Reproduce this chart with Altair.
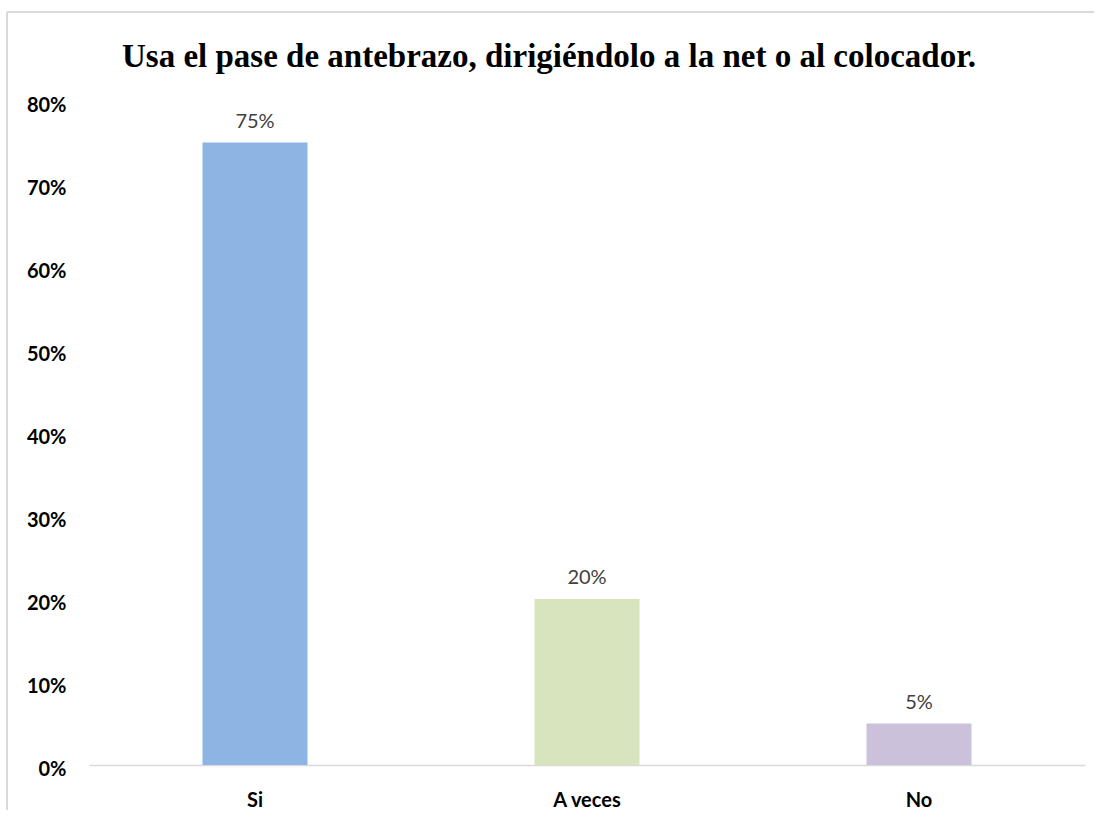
import altair as alt
import pandas as pd

categories = ["Si", "A veces", "No"]
values = [0.75, 0.20, 0.05]
colors = ["#8EB4E3", "#D7E4BD", "#CCC1DA"]
y_ticks = [0, 0.1, 0.2, 0.3, 0.4, 0.5, 0.6, 0.7, 0.8]
title_text = "Usa el pase de antebrazo, dirigiéndolo a la net o al colocador."

df = pd.DataFrame({"cat": categories, "val": values, "color": colors})

FONT = "Lato"

x_enc = alt.X(
    "cat:N",
    sort=categories,
    scale=alt.Scale(paddingInner=0, paddingOuter=0),
    axis=alt.Axis(
        title=None, labelAngle=0, ticks=False, domainColor="#D9D9D9", domainWidth=1.5,
        labelFont=FONT, labelFontWeight="bold", labelFontSize=20, labelColor="#000000",
        labelPadding=25,
    ),
)
y_enc = alt.Y(
    "val:Q",
    scale=alt.Scale(domain=[0, 0.8], nice=False),
    axis=alt.Axis(
        title=None, values=y_ticks, format=".0%", grid=False, ticks=False, domain=False,
        labelFont=FONT, labelFontWeight="bold", labelFontSize=20, labelColor="#000000",
        labelPadding=23, labelBaseline="middle", labelOffset=4,
    ),
)

bars = alt.Chart(df).mark_bar(size=105).encode(
    x=x_enc, y=y_enc, color=alt.Color("color:N", scale=None)
)
labels = alt.Chart(df).mark_text(
    baseline="bottom", dy=-11, font=FONT, fontSize=20, color="#404040"
).encode(
    x=alt.X("cat:N", sort=categories), y="val:Q", text=alt.Text("val:Q", format=".0%")
)

one = pd.DataFrame({"a": [0]})
border = alt.Chart(one).mark_rule(color="#D9D9D9", strokeWidth=2).encode(
    x=alt.value(-82), x2=alt.value(1005), y=alt.value(-89)
)
border_left = alt.Chart(one).mark_rule(color="#D9D9D9", strokeWidth=2).encode(
    x=alt.value(-82), y=alt.value(-89), y2=alt.value(710)
)
title = alt.Chart(one).mark_text(
    font="Liberation Serif", fontSize=33, fontWeight="bold", color="#000000",
    align="center", baseline="middle",
).encode(x=alt.value(460), y=alt.value(-44), text=alt.value(title_text))

chart = alt.layer(border, border_left, title, bars, labels).properties(
    width=996,
    height=664,
    autosize=alt.AutoSizeParams(type="none"),
    padding={"left": 89, "top": 101, "right": 9, "bottom": 45},
).configure_view(stroke=None)

chart.save("out.html", embed_options={"renderer": "svg", "actions": False})
